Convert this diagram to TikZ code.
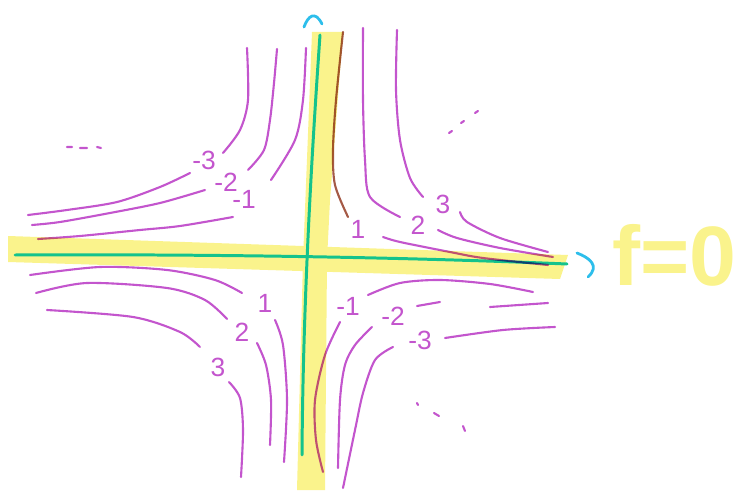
\documentclass[tikz,border=0pt]{standalone}
\usepackage{fontspec}
\setmainfont{Liberation Sans}
\usepackage{tikz}
\usetikzlibrary{arrows.meta}
\definecolor{hiyellow}{RGB}{250,243,140}
\definecolor{axisgreen}{RGB}{20,195,140}
\definecolor{markcyan}{RGB}{45,190,235}
\definecolor{levelpink}{RGB}{195,85,205}
\definecolor{levelbrown}{RGB}{165,90,70}

\begin{document}
\begin{tikzpicture}[x=0.02cm,y=-0.02cm,line cap=round,line join=round,
  lvl/.style={levelpink,line width=1.2pt},
  axisln/.style={axisgreen,line width=1.7pt},
  cyanmark/.style={markcyan,line width=1.6pt},
  lbl/.style={levelpink,font=\fontsize{15}{15}\selectfont,inner sep=0pt}]
  \useasboundingbox (0,0) rectangle (737,493);

  % highlighted zero set
  \fill[hiyellow] (8,236) -- (568,255) -- (560,279) -- (8,262) -- cycle;
  \fill[hiyellow] (312,32) -- (343,32) -- (330,200) -- (327,260) -- (325,490)
    -- (297,490) -- (303,260) -- cycle;
  \node[hiyellow,anchor=base west,inner sep=0pt,
    font=\fontsize{48}{48}\selectfont\bfseries] (fzero) at (612,286) {f=0};

  % axes
  \draw[axisln] (320,35) .. controls (312,150) and (303,300) .. (302,455);
  \draw[axisln] (15,255) .. controls (200,254) and (400,257) .. (567,264);
  \draw[cyanmark] (304,27) .. controls (308,16) and (315,10) .. (322,24);
  \draw[cyanmark] (577,253) .. controls (590,258) and (600,266) .. (588,277);

  \begin{scope}[blend mode=multiply]
  % second quadrant, f<0
  \draw[lvl] plot[smooth] coordinates {(247,48) (248,100) (240,130) (223,153)};
  \draw[lvl] plot[smooth] coordinates {(190,173) (160,187) (117,202) (67,210) (28,215)};
  \draw[lvl] plot[smooth] coordinates {(277,49) (274,83) (270,120) (264,150) (248,170)};
  \draw[lvl] plot[smooth] coordinates {(205,190) (160,203) (110,213) (60,222) (32,225)};
  \draw[lvl] plot[smooth] coordinates {(306,48) (303,100) (295,140) (271,180)};
  \draw[lvl] plot[smooth] coordinates {(233,217) (180,226) (140,230) (80,236) (38,239)};
  \node[lbl] (tla) at (204,160) {-3};
  \node[lbl] (tlb) at (226,182) {-2};
  \node[lbl] (tlc) at (244,199) {-1};

  % first quadrant, f>0
  \draw[lvl,levelbrown] plot[smooth] coordinates {(343,32) (336,100) (333,150) (335,185) (348,217)};
  \draw[lvl] plot[smooth] coordinates {(383,237) (400,242) (450,252) (483,258) (548,265)};
  \draw[lvl] plot[smooth] coordinates {(363,28) (363,100) (365,160) (370,197) (400,217)};
  \draw[lvl] plot[smooth] coordinates {(438,230) (457,238) (500,248) (553,257)};
  \draw[lvl] plot[smooth] coordinates {(397,30) (396,90) (400,140) (410,178) (423,197)};
  \draw[lvl] plot[smooth] coordinates {(460,212) (467,222) (500,238) (548,252)};
  \node[lbl] (tra) at (358,229) {1};
  \node[lbl] (trb) at (418,225) {2};
  \node[lbl] (trc) at (443,204) {3};

  % third quadrant, f>0
  \draw[lvl] plot[smooth] coordinates {(30,275) (100,267) (167,270) (215,280) (242,293)};
  \draw[lvl] plot[smooth] coordinates {(275,320) (283,345) (287,400) (284,462)};
  \draw[lvl] plot[smooth] coordinates {(36,293) (87,283) (167,288) (205,300) (227,319)};
  \draw[lvl] plot[smooth] coordinates {(257,343) (266,365) (271,400) (270,445)};
  \draw[lvl] plot[smooth] coordinates {(47,310) (133,317) (180,332) (200,347)};
  \draw[lvl] plot[smooth] coordinates {(229,382) (240,398) (243,430) (241,477)};
  \node[lbl] (bla) at (265,303) {1};
  \node[lbl] (blb) at (242,332) {2};
  \node[lbl] (blc) at (218,367) {3};

  % fourth quadrant, f<0
  \draw[lvl] plot[smooth] coordinates {(368,295) (400,283) (440,280) (490,284) (533,292)};
  \draw[lvl] plot[smooth] coordinates {(340,322) (325,355) (315,400) (316,440) (323,472)};
  \draw[lvl] (417,306) -- (440,302);
  \draw[lvl] (490,307) -- (548,303);
  \draw[lvl] plot[smooth] coordinates {(372,327) (355,345) (345,365) (340,400) (338,468)};
  \draw[lvl] plot[smooth] coordinates {(445,338) (503,330) (555,327)};
  \draw[lvl] plot[smooth] coordinates {(393,347) (375,360) (363,393) (355,430) (343,488)};
  \node[lbl] (bra) at (348,306) {-1};
  \node[lbl] (brb) at (393,316) {-2};
  \node[lbl] (brc) at (420,340) {-3};

  % and so on
  \draw[lvl] (67,147) -- (72,147) (80,148) -- (87,148) (97,147) -- (101,148);
  \draw[lvl] (449,133) -- (452,131) (461,123) -- (464,121) (475,113) -- (478,111);
  \draw[lvl] (417,403) -- (418,405) (434,413) -- (439,416) (463,426) -- (465,431);
  \end{scope}
\end{tikzpicture}
\end{document}
